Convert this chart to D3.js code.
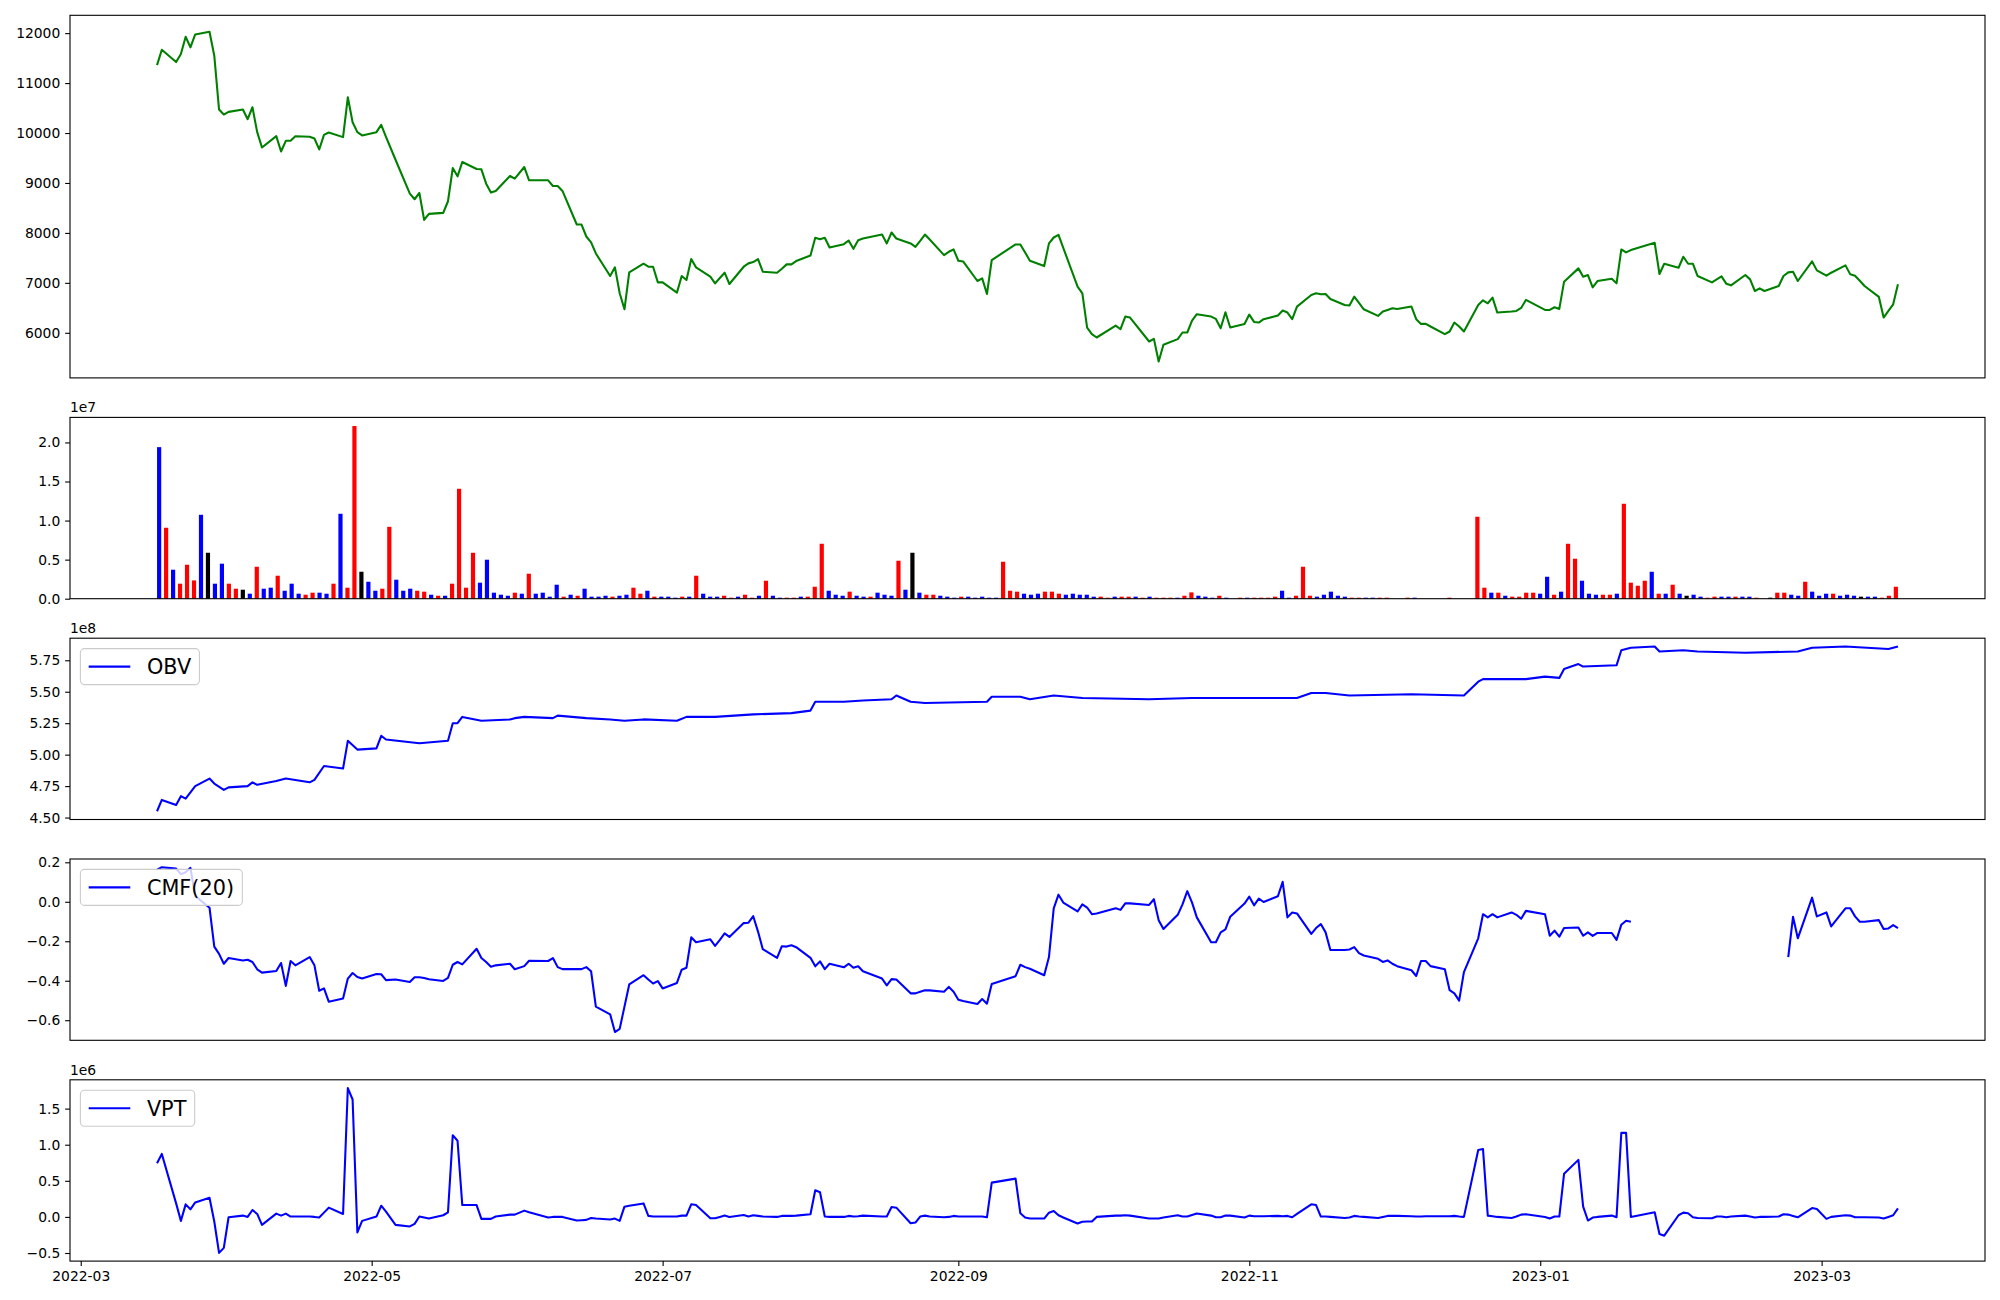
<!DOCTYPE html>
<html><head><meta charset="utf-8">
<script src="https://cdn.jsdelivr.net/npm/d3@7"></script>
<style>body{margin:0;background:#fff}svg{display:block}text{font-family:"DejaVu Sans",sans-serif}</style>
</head><body><svg id="c" width="2000" height="1300"></svg>
<script>
// ---------------- DATA ----------------
const START = "2022-03-17", END = "2023-03-17";
const HOLIDAYS = ["2022-05-05","2022-06-01","2022-06-06","2022-08-15","2022-09-09","2022-09-12",
  "2022-10-03","2022-10-10","2022-12-30","2023-01-23","2023-01-24","2023-03-01"];

const closePrice = [
 11360,11667,11421,11581,11927,11714,11973,12027,11548,10470,
 10370,10423,10470,10277,10516,10017,9711,9937,9631,9844,
 9844,9937,9924,9891,9671,9964,10011,9918,10716,10217,
 10017,9951,10017,10164,9924,9465,8787,8674,8800,8261,
 8381,8401,8634,9299,9133,9419,9279,9273,8986,8807,
 8840,9139,9086,9319,9053,9053,8940,8940,8840,8168,
 8168,7928,7809,7589,7137,7310,6791,6471,7210,7383,
 7323,7323,7010,7010,6804,7137,7057,7476,7310,7124,
 6990,7097,7203,6977,7323,7390,7416,7476,7223,7203,
 7283,7370,7370,7436,7549,7902,7875,7902,7709,7775,
 7848,7682,7855,7888,7968,7789,8008,7888,7789,7722,
 7842,7968,7868,7556,7622,7669,7443,7429,7037,7090,
 6777,7456,7769,7769,7609,7443,7336,7790,7908,7962,
 7700,6924,6791,6105,5972,5906,6145,6072,6325,6305,
 5826,5879,5427,5760,5873,6006,6006,6245,6372,6325,
 6278,6092,6411,6105,6178,6365,6218,6205,6272,6345,
 6445,6405,6272,6525,6757,6791,6771,6777,6678,6558,
 6545,6724,6598,6471,6338,6425,6458,6491,6478,6525,
 6272,6178,6178,6126,5972,6026,6205,6126,6026,6558,
 6651,6591,6704,6405,6425,6438,6498,6658,6458,6458,
 6511,6478,7024,7290,7123,7157,6910,7037,7083,6990,
 7669,7609,7656,7802,7177,7383,7303,7523,7383,7383,
 7137,7010,7070,7130,6984,6950,7157,7070,6837,6890,
 6837,6937,7137,7210,7223,7037,7429,7250,7143,7203,
 7350,7170,7143,7043,6937,6718,6305,6438,6571,6970];

// volume in millions of shares
const volume = [
 19.4,9.08,3.71,1.92,4.35,2.34,10.74,5.88,1.92,4.48,
 1.92,1.28,1.15,0.64,4.09,1.28,1.41,2.94,1.02,1.92,
 0.64,0.51,0.77,0.77,0.64,1.92,10.87,1.41,22.1,3.45,
 2.17,1.02,1.28,9.2,2.43,1.02,1.28,1.02,0.9,0.51,
 0.38,0.38,1.92,14.07,1.41,5.88,2.05,4.99,0.77,0.51,
 0.38,0.77,0.64,3.2,0.64,0.77,0.26,1.79,0.26,0.51,
 0.38,1.28,0.26,0.26,0.38,0.26,0.38,0.51,1.41,0.64,
 1.02,0.26,0.26,0.26,0.13,0.26,0.26,2.94,0.64,0.26,
 0.26,0.38,0.13,0.26,0.51,0.13,0.38,2.3,0.38,0.13,
 0.13,0.13,0.26,0.26,1.53,7.03,1.02,0.51,0.38,0.9,
 0.38,0.26,0.26,0.77,0.51,0.38,4.86,1.15,5.88,0.77,
 0.51,0.51,0.38,0.26,0.13,0.26,0.26,0.13,0.26,0.13,
 0.13,4.73,1.02,0.9,0.64,0.51,0.64,0.9,0.9,0.64,
 0.51,0.64,0.51,0.51,0.26,0.26,0.13,0.26,0.26,0.26,
 0.26,0.13,0.26,0.13,0.13,0.13,0.13,0.38,0.81,0.38,
 0.26,0.13,0.38,0.13,0,0.13,0.13,0.13,0.13,0.13,
 0.26,1.02,0.13,0.38,4.09,0.38,0.26,0.51,0.9,0.38,
 0.26,0.13,0.13,0.13,0.13,0.13,0.13,0,0,0.13,
 0.13,0,0,0,0,0.13,0,0,0,10.49,
 1.41,0.77,0.77,0.38,0.26,0.26,0.77,0.77,0.64,2.81,
 0.51,0.9,7.03,5.12,2.3,0.64,0.51,0.51,0.51,0.64,
 12.15,2.05,1.66,2.3,3.45,0.64,0.64,1.79,0.64,0.38,
 0.51,0.26,0.13,0.26,0.26,0.26,0.26,0.26,0.26,0.13,
 0,0.13,0.77,0.77,0.51,0.38,2.17,0.9,0.38,0.64,
 0.64,0.38,0.51,0.38,0.26,0.26,0.26,0.13,0.38,1.53];

// bar direction: r = up (red), b = down (blue), k = unchanged (black)
const volumeDir = [
 "b","r","b","r","r","r","b","k","b","b",
 "r","r","k","b","r","b","b","r","b","b",
 "b","r","r","b","b","r","b","r","r","k",
 "b","b","r","r","b","b","b","r","r","b",
 "r","b","r","r","r","r","b","b","b","b",
 "b","r","b","r","b","b","b","b","r","b",
 "r","b","b","b","b","r","b","b","r","r",
 "b","r","b","b","b","r","b","r","b","b",
 "b","r","r","b","r","r","b","r","b","b",
 "r","r","b","r","r","r","b","b","b","r",
 "b","b","r","b","b","b","r","b","k","b",
 "r","r","b","b","b","r","b","b","b","b",
 "b","r","r","r","b","b","b","r","r","r",
 "b","b","b","b","b","r","r","b","r","r",
 "b","r","b","r","r","r","b","r","r","b",
 "b","b","r","b","k","r","b","r","r","r",
 "r","b","b","r","r","r","b","b","b","b",
 "b","r","r","b","b","r","r","k","k","r",
 "b","k","k","k","k","r","k","k","k","r",
 "r","b","r","b","r","r","r","r","b","b",
 "r","b","r","r","b","b","b","r","r","b",
 "r","r","r","r","b","r","b","r","b","k",
 "b","b","r","r","b","b","r","b","b","r",
 "k","k","r","r","b","b","r","b","b","b",
 "r","b","b","b","k","b","b","r","r","r"];

// OBV (x1e8), read at its visible vertices
const obvDates = ["2022-03-17","2022-03-18","2022-03-21","2022-03-22","2022-03-23","2022-03-25","2022-03-28","2022-03-29",
 "2022-03-31","2022-04-01","2022-04-05","2022-04-06","2022-04-07","2022-04-11","2022-04-13","2022-04-18","2022-04-19",
 "2022-04-21","2022-04-25","2022-04-26","2022-04-28","2022-05-02","2022-05-03","2022-05-04","2022-05-11","2022-05-17",
 "2022-05-18","2022-05-19","2022-05-20","2022-05-24","2022-05-30","2022-05-31","2022-06-02","2022-06-08","2022-06-09",
 "2022-06-15","2022-06-20","2022-06-23","2022-06-27","2022-07-04","2022-07-06","2022-07-12","2022-07-20","2022-07-28",
 "2022-08-01","2022-08-02","2022-08-08","2022-08-12","2022-08-18","2022-08-19","2022-08-22","2022-08-25","2022-09-07",
 "2022-09-08","2022-09-14","2022-09-16","2022-09-21","2022-09-27","2022-10-11","2022-10-20","2022-10-27","2022-11-11",
 "2022-11-14","2022-11-17","2022-11-22","2022-12-05","2022-12-16","2022-12-19","2022-12-20","2022-12-29","2023-01-02",
 "2023-01-05","2023-01-06","2023-01-09","2023-01-10","2023-01-17","2023-01-18","2023-01-19","2023-01-20","2023-01-25",
 "2023-01-26","2023-01-31","2023-02-03","2023-02-13","2023-02-24","2023-02-27","2023-03-06","2023-03-15","2023-03-17"];
const obvValues = [4.55,4.64,4.60,4.67,4.65,4.75,4.81,4.77,
 4.72,4.74,4.75,4.78,4.76,4.79,4.81,4.78,4.80,
 4.91,4.89,5.11,5.04,5.05,5.15,5.12,5.09,5.11,
 5.25,5.25,5.30,5.27,5.28,5.29,5.30,5.29,5.31,
 5.29,5.28,5.27,5.28,5.27,5.30,5.30,5.32,5.33,
 5.35,5.42,5.42,5.43,5.44,5.47,5.42,5.41,5.42,
 5.46,5.46,5.44,5.47,5.45,5.44,5.45,5.45,5.45,
 5.49,5.49,5.47,5.48,5.47,5.58,5.60,5.60,5.62,
 5.61,5.68,5.72,5.70,5.71,5.83,5.84,5.85,5.86,
 5.82,5.83,5.82,5.81,5.82,5.85,5.86,5.84,5.86];

// CMF(20) per trading day (null = not defined)
const cmfValues = [
 0.163,0.175,0.168,0.14,0.15,0.172,0.03,-0.03,-0.227,-0.264,
 -0.314,-0.285,-0.297,-0.294,-0.305,-0.342,-0.359,-0.351,-0.310,-0.426,
 -0.300,-0.322,-0.280,-0.322,-0.451,-0.439,-0.506,-0.490,-0.389,-0.361,
 -0.381,-0.389,-0.366,-0.367,-0.397,-0.394,-0.406,-0.382,-0.382,-0.386,
 -0.392,-0.401,-0.386,-0.319,-0.305,-0.317,-0.238,-0.285,-0.305,-0.329,
 -0.322,-0.314,-0.342,-0.326,-0.299,-0.300,-0.285,-0.331,-0.341,-0.341,
 -0.341,-0.331,-0.352,-0.531,-0.570,-0.660,-0.644,-0.531,-0.419,-0.372,
 -0.394,-0.414,-0.402,-0.439,-0.411,-0.344,-0.334,-0.180,-0.205,-0.190,
 -0.223,-0.193,-0.160,-0.178,-0.108,-0.106,-0.073,-0.151,-0.240,-0.284,
 -0.225,-0.227,-0.220,-0.230,-0.284,-0.327,-0.302,-0.341,-0.314,-0.332,
 -0.314,-0.334,-0.327,-0.352,-0.389,-0.423,-0.392,-0.394,-0.464,-0.464,
 -0.456,-0.448,-0.449,-0.456,-0.431,-0.456,-0.496,-0.503,-0.518,-0.493,
 -0.516,-0.416,-0.377,-0.319,-0.331,-0.339,-0.372,-0.280,-0.033,0.036,
 -0.004,-0.049,-0.013,-0.029,-0.063,-0.059,-0.033,-0.041,-0.008,-0.008,
 -0.016,0.013,-0.093,-0.138,-0.066,-0.013,0.054,-0.004,-0.079,-0.205,
 -0.205,-0.155,-0.140,-0.076,-0.009,0.026,-0.018,0.016,-0.001,0.028,
 0.101,-0.079,-0.054,-0.059,-0.163,-0.133,-0.113,-0.155,-0.244,-0.244,
 -0.242,-0.230,-0.260,-0.272,-0.289,-0.305,-0.297,-0.314,-0.326,-0.347,
 -0.376,-0.300,-0.300,-0.326,-0.342,-0.448,-0.464,-0.501,-0.356,-0.185,
 -0.063,-0.079,-0.063,-0.079,-0.054,-0.066,-0.086,-0.046,-0.063,-0.172,
 -0.146,-0.177,-0.133,-0.130,-0.172,-0.155,-0.173,-0.158,-0.158,-0.193,
 -0.116,-0.096,-0.101,null,null,null,null,null,null,null,
 null,null,null,null,null,null,null,null,null,null,
 null,null,null,-0.280,-0.076,-0.185,0.021,-0.074,-0.054,-0.125,
 -0.033,-0.033,-0.074,-0.101,-0.101,-0.093,-0.138,-0.135,-0.118,-0.133];

// VPT (x1e6) per trading day
const vptValues = [
 0.744,0.872,0.187,-0.055,0.174,0.105,0.201,0.265,-0.064,-0.498,
 -0.429,-0.005,0.018,0.0,0.096,0.041,-0.110,0.046,0.018,0.046,
 0.005,0.005,0.005,0.0,-0.009,0.059,0.128,0.041,1.785,1.626,
 -0.215,-0.055,0.005,0.155,0.073,-0.110,-0.132,-0.096,0.005,-0.009,
 -0.023,0.023,0.064,1.132,1.055,0.164,0.164,-0.027,-0.027,-0.027,
 0.005,0.032,0.032,0.087,0.064,-0.009,0.0,0.0,0.0,-0.050,
 -0.046,-0.041,-0.014,-0.023,-0.037,-0.023,-0.055,0.142,0.155,0.187,
 0.014,0.005,0.005,0.005,0.005,0.018,0.018,0.174,0.164,-0.018,
 -0.018,0.0,0.018,0.0,0.027,0.005,0.023,0.014,0.005,0.0,
 0.014,0.014,0.014,0.018,0.037,0.370,0.342,0.005,0.0,0.0,
 0.014,0.005,0.009,0.018,0.005,0.005,0.137,0.128,-0.087,-0.078,
 0.005,0.018,0.005,-0.005,0.0,0.014,0.005,0.005,0.005,0.005,
 -0.005,0.475,0.530,0.050,-0.009,-0.023,-0.023,0.059,0.082,0.023,
 -0.009,-0.091,-0.068,-0.064,-0.064,0.0,0.018,0.018,0.023,0.018,
 -0.023,-0.023,-0.023,-0.009,0.023,0.005,0.005,0.027,0.046,0.018,
 -0.005,-0.005,0.018,0.018,-0.009,0.018,0.009,0.009,0.009,0.014,
 0.009,0.014,-0.005,0.041,0.174,0.164,0.005,0.005,0.0,-0.014,
 -0.009,0.014,0.005,0.0,-0.014,0.0,0.014,0.014,0.014,0.009,
 0.005,0.005,0.009,0.009,0.009,0.009,0.014,0.005,0.0,0.927,
 0.941,0.018,0.009,0.0,-0.014,0.005,0.032,0.037,0.0,-0.023,
 0.005,0.005,0.598,0.790,0.142,-0.050,-0.009,0.0,0.018,-0.005,
 1.164,1.164,0.0,0.064,-0.237,-0.260,0.023,0.059,0.050,-0.005,
 -0.014,-0.018,0.005,0.005,-0.005,0.005,0.018,0.005,-0.009,0.0,
 0.0,0.005,0.037,0.032,0.014,-0.005,0.123,0.110,-0.027,0.0,
 0.023,0.018,-0.005,-0.005,-0.005,-0.009,-0.023,0.0,0.023,0.119];

const priceTicks = [6000,7000,8000,9000,10000,11000,12000];
const volumeTicks = [0,5,10,15,20];          // millions -> shown x1e7
const obvTicks = [4.50,4.75,5.00,5.25,5.50,5.75];
const cmfTicks = [-0.6,-0.4,-0.2,0.0,0.2];
const vptTicks = [-0.5,0.0,0.5,1.0,1.5];
const dateTicks = ["2022-03-01","2022-05-01","2022-07-01","2022-09-01","2022-11-01","2023-01-01","2023-03-01"];
const legendLabels = ["OBV","CMF(20)","VPT"];

// ---------------- LAYOUT ----------------
const svg = d3.select("#c");
const L = 70, R = 1985;
const boxes = [[15.3,377.9],[417.4,598.7],[638.2,819.5],[859,1040.3],[1079.8,1261.1]];
const FS = "13.89px", TICK = 4.86, LW = 2.08;
const parse = d3.utcParse("%Y-%m-%d"), fmt = d3.utcFormat("%Y-%m-%d");
const t0 = parse(START), t1 = parse(END);
const tradingDates = d3.utcDay.range(t0, d3.utcDay.offset(t1, 1))
  .filter(d => { const w = d.getUTCDay(); return w !== 0 && w !== 6 && !HOLIDAYS.includes(fmt(d)); });
const span = t1 - t0;
const x = d3.scaleUtc().domain([new Date(+t0 - 0.05*span), new Date(+t1 + 0.05*span)]).range([L, R]);
const n = volume.length, bw = 0.6;
const xr = (n - 1) + bw;
const xi = d3.scaleLinear().domain([-bw/2 - 0.05*xr, n - 1 + bw/2 + 0.05*xr]).range([L, R]);

function pad(vals){ const e = d3.extent(vals.filter(v => v != null)); const r = e[1]-e[0]; return [e[0]-0.05*r, e[1]+0.05*r]; }
function yScale(k, dom){ return d3.scaleLinear().domain(dom).range([boxes[k][1], boxes[k][0]]); }

function yAxis(k, y, ticks, f){
  const g = svg.append("g").attr("transform", `translate(${L},0)`)
    .call(d3.axisLeft(y).tickValues(ticks).tickFormat(f).tickSize(TICK).tickPadding(TICK));
  g.select(".domain").remove();
  g.selectAll("line").attr("stroke","#000").attr("stroke-width",1.1);
  g.selectAll("text").attr("font-size",FS).attr("font-family","DejaVu Sans").attr("fill","#000");
}
function frame(k){
  svg.append("rect").attr("x",L).attr("y",boxes[k][0]).attr("width",R-L).attr("height",boxes[k][1]-boxes[k][0])
    .attr("fill","none").attr("stroke","#000").attr("stroke-width",1.1);
}
function offsetText(k, s){
  svg.append("text").attr("x",L).attr("y",boxes[k][0]-5).attr("font-size",FS).text(s);
}
function legend(k, label){
  const fs = 20.8, bx = L + 10.4, by = boxes[k][0] + 10.4;
  const g = svg.append("g");
  const rect = g.append("rect").attr("x",bx).attr("y",by).attr("rx",4).attr("height",36)
    .attr("fill","#fff").attr("fill-opacity",0.8).attr("stroke","#cccccc").attr("stroke-width",1.1);
  g.append("line").attr("x1",bx+8.3).attr("x2",bx+8.3+41.6).attr("y1",by+18).attr("y2",by+18)
    .attr("stroke","#0000ff").attr("stroke-width",LW);
  const t = g.append("text").attr("x",bx+66.5).attr("y",by+18).attr("dy","0.36em").attr("font-size",fs+"px").text(label);
  rect.attr("width", 66.5 + t.node().getComputedTextLength() + 8.3);
}
const colorOf = {r:"#ff0000", b:"#0000ff", k:"#000000"};

// ---- Panel 1: price
{
  const y = yScale(0, pad(closePrice));
  svg.append("path").datum(closePrice.map((v,i)=>({d:tradingDates[i],v})))
    .attr("fill","none").attr("stroke","#008000").attr("stroke-width",LW).attr("stroke-linejoin","round")
    .attr("d", d3.line().x(p=>x(p.d)).y(p=>y(p.v)));
  yAxis(0, y, priceTicks, d3.format("d"));
  frame(0);
}
// ---- Panel 2: volume bars
{
  const y = yScale(1, [0, d3.max(volume)*1.05]);
  svg.append("g").selectAll("rect").data(volume).join("rect")
    .attr("x",(v,i)=>xi(i-bw/2)).attr("width",xi(bw)-xi(0))
    .attr("y",v=>y(v)).attr("height",v=>y(0)-y(v))
    .attr("fill",(v,i)=>colorOf[volumeDir[i]]);
  yAxis(1, y, volumeTicks, v=>d3.format(".1f")(v/10));
  frame(1);
  offsetText(1, "1e7");
}
// ---- Panel 3: OBV
{
  const y = yScale(2, pad(obvValues));
  svg.append("path").datum(obvValues.map((v,i)=>({d:parse(obvDates[i]),v})))
    .attr("fill","none").attr("stroke","#0000ff").attr("stroke-width",LW).attr("stroke-linejoin","round")
    .attr("d", d3.line().x(p=>x(p.d)).y(p=>y(p.v)));
  yAxis(2, y, obvTicks, d3.format(".2f"));
  frame(2);
  offsetText(2, "1e8");
  legend(2, legendLabels[0]);
}
const minus = s => s.replace("-","\u2212");
// ---- Panel 4: CMF
{
  const y = yScale(3, pad(cmfValues));
  svg.append("path").datum(cmfValues.map((v,i)=>({d:tradingDates[i],v})))
    .attr("fill","none").attr("stroke","#0000ff").attr("stroke-width",LW).attr("stroke-linejoin","round")
    .attr("d", d3.line().defined(p=>p.v!=null).x(p=>x(p.d)).y(p=>y(p.v)));
  yAxis(3, y, cmfTicks, v=>minus(d3.format(".1f")(v)));
  frame(3);
  legend(3, legendLabels[1]);
}
// ---- Panel 5: VPT
{
  const y = yScale(4, pad(vptValues));
  svg.append("path").datum(vptValues.map((v,i)=>({d:tradingDates[i],v})))
    .attr("fill","none").attr("stroke","#0000ff").attr("stroke-width",LW).attr("stroke-linejoin","round")
    .attr("d", d3.line().x(p=>x(p.d)).y(p=>y(p.v)));
  yAxis(4, y, vptTicks, v=>minus(d3.format(".1f")(v)));
  const g = svg.append("g").attr("transform",`translate(0,${boxes[4][1]})`)
    .call(d3.axisBottom(x).tickValues(dateTicks.map(parse)).tickFormat(d3.utcFormat("%Y-%m")).tickSize(TICK).tickPadding(TICK));
  g.select(".domain").remove();
  g.selectAll("line").attr("stroke","#000").attr("stroke-width",1.1);
  g.selectAll("text").attr("font-size",FS).attr("font-family","DejaVu Sans").attr("fill","#000");
  frame(4);
  offsetText(4, "1e6");
  legend(4, legendLabels[2]);
}
</script></body></html>
